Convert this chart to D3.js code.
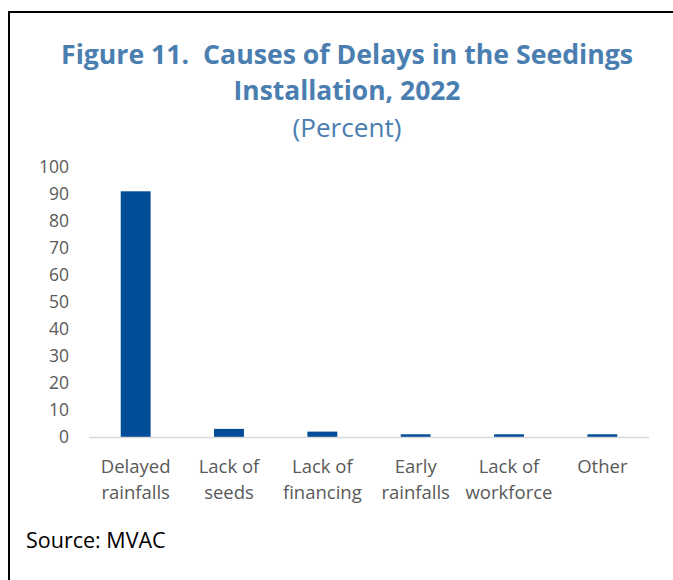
<!DOCTYPE html>
<html>
<head>
<meta charset="utf-8">
<script src="https://cdn.jsdelivr.net/npm/d3@7"></script>
<style>
  body { margin: 0; background: #fff; }
  svg { display: block; }
</style>
</head>
<body>
<script>
const categories = [
  ['Delayed', 'rainfalls'],
  ['Lack of', 'seeds'],
  ['Lack of', 'financing'],
  ['Early', 'rainfalls'],
  ['Lack of', 'workforce'],
  ['Other']
]
const values = [91, 3, 2, 1, 1, 1]
const yTicks = [0, 10, 20, 30, 40, 50, 60, 70, 80, 90, 100]

const width = 673
const height = 580
const font = "'Open Sans', 'Noto Sans', sans-serif"

const svg = d3.select('body').append('svg')
  .attr('width', width)
  .attr('height', height)

// frame: top and left rules
svg.append('line').attr('x1', 9).attr('x2', width).attr('y1', 12).attr('y2', 12)
  .attr('stroke', '#000').attr('stroke-width', 2)
svg.append('line').attr('x1', 9).attr('x2', 9).attr('y1', 11).attr('y2', height)
  .attr('stroke', '#000').attr('stroke-width', 2)

// titles
const titleColor = '#4a7eb0'
svg.append('text').attr('x', 347).attr('y', 64)
  .attr('text-anchor', 'middle').attr('fill', titleColor)
  .style('font-family', font).style('font-weight', 700).style('font-size', '26px')
  .style('white-space', 'pre')
  .attr('textLength', 572).attr('lengthAdjust', 'spacingAndGlyphs')
  .text('Figure 11.  Causes of Delays in the Seedings')
svg.append('text').attr('x', 347).attr('y', 100)
  .attr('text-anchor', 'middle').attr('fill', titleColor)
  .style('font-family', font).style('font-weight', 700).style('font-size', '26px')
  .attr('textLength', 227).attr('lengthAdjust', 'spacingAndGlyphs')
  .text('Installation, 2022')
svg.append('text').attr('x', 347).attr('y', 137)
  .attr('text-anchor', 'middle').attr('fill', titleColor)
  .style('font-family', font).style('font-size', '25px')
  .attr('textLength', 109).attr('lengthAdjust', 'spacingAndGlyphs')
  .text('(Percent)')

const x = d3.scaleBand()
  .domain(d3.range(categories.length))
  .range([89, 649])
  .paddingInner(0.68)
  .paddingOuter(0.34)

const y = d3.scaleLinear().domain([0, 100]).range([437, 167])

// y tick labels
svg.append('g').selectAll('text')
  .data(yTicks)
  .enter()
  .append('text')
  .attr('x', 69)
  .attr('y', d => y(d))
  .attr('dy', '0.35em')
  .attr('text-anchor', 'end')
  .attr('fill', '#595959')
  .style('font-family', font)
  .style('font-size', '17.5px')
  .text(d => d)

// bars
svg.append('g').selectAll('rect')
  .data(values)
  .enter()
  .append('rect')
  .attr('x', (d, i) => x(i))
  .attr('width', x.bandwidth())
  .attr('y', d => y(d))
  .attr('height', d => y(0) - y(d))
  .attr('fill', '#004c97')

// baseline
svg.append('line')
  .attr('x1', 89).attr('x2', 649)
  .attr('y1', y(0) + 0.5).attr('y2', y(0) + 0.5)
  .attr('stroke', '#d9d9d9').attr('stroke-width', 1.5)

// category labels
const labels = svg.append('g').selectAll('text')
  .data(categories)
  .enter()
  .append('text')
  .attr('text-anchor', 'middle')
  .attr('fill', '#595959')
  .style('font-family', font)
  .style('font-size', '18.5px')

labels.selectAll('tspan')
  .data((d, i) => d.map(line => ({ line, i })))
  .enter()
  .append('tspan')
  .attr('x', d => x(d.i) + x.bandwidth() / 2)
  .attr('y', (d, j) => 473 + j * 26)
  .text(d => d.line)

svg.append('text')
  .attr('x', 26).attr('y', 548)
  .attr('fill', '#000')
  .style('font-family', font)
  .style('font-size', '21.5px')
  .text('Source: MVAC')
</script>
</body>
</html>
